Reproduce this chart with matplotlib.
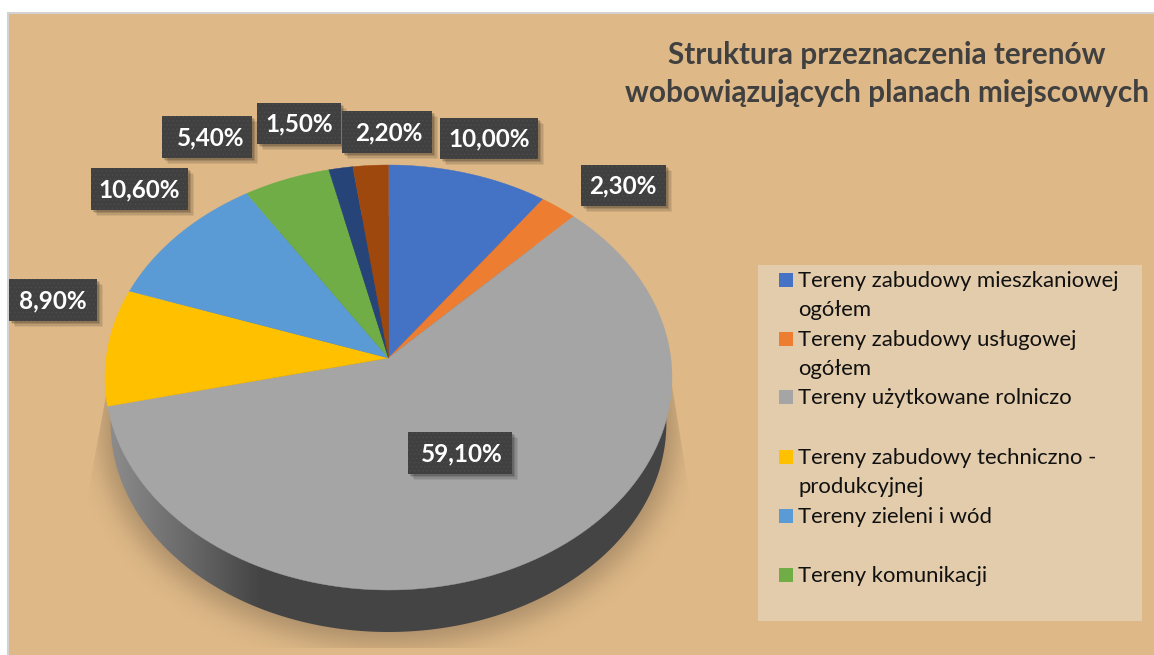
"""Pie chart with a tilted, extruded look, drawn in pixel coordinates."""
import numpy as np
import matplotlib
matplotlib.use("Agg")
import matplotlib.pyplot as plt
from matplotlib.patches import Polygon, Rectangle
from matplotlib.colors import LinearSegmentedColormap

W, H = 1154, 655

TITLE = "Struktura przeznaczenia terenów\nwobowiązujących planach miejscowych"
values = [10.0, 2.3, 59.1, 8.9, 10.6, 5.4, 1.5, 2.2]
value_labels = ["10,00%", "2,30%", "59,10%", "8,90%", "10,60%", "5,40%", "1,50%", "2,20%"]
colors = ["#4472c4", "#ed7d31", "#a5a5a5", "#ffc000", "#5b9bd5", "#70ad47", "#264478", "#9e480e"]
legend_labels = [
    "Tereny zabudowy mieszkaniowej\nogółem",
    "Tereny zabudowy usługowej\nogółem",
    "Tereny użytkowane rolniczo",
    "Tereny zabudowy techniczno -\nprodukcyjnej",
    "Tereny zieleni i wód",
    "Tereny komunikacji",
]

# label boxes in pixels: left, top, right, bottom
label_boxes = [
    (440, 118, 538, 159), (581, 165, 666, 206), (408, 432, 512, 474), (9, 279, 97, 321),
    (91, 168, 188, 210), (162, 116, 252, 158), (257, 103, 341, 144), (342, 111, 432, 153),
]
label_dx = [0, -1, 2, 0, 0, 3.5, 0, 2]
legend_y = [280, 339, 397, 457, 516, 575]

BG = "#deb887"
plt.rcParams["font.family"] = ["Lato", "DejaVu Sans"]
plt.rcParams["hatch.linewidth"] = 0.6


def project(theta, x0, y0, scale=1.0):
    # circle seen in perspective, near edge larger than the far edge
    k = -0.0918
    u, v = np.sin(theta), -np.cos(theta)
    d = 1 + k * v
    return x0 + scale * 282.3 * u / d, y0 + scale * 210.7 * v / d


def gauss_blur(a, sigma):
    fy = np.fft.fftfreq(a.shape[0])[:, None]
    fx = np.fft.rfftfreq(a.shape[1])[None, :]
    g = np.exp(-2 * (np.pi * sigma) ** 2 * (fx ** 2 + fy ** 2))
    return np.fft.irfft2(np.fft.rfft2(a) * g, s=a.shape)


fig = plt.figure(figsize=(W / 100, H / 100), dpi=100, facecolor="white")
ax = fig.add_axes([0, 0, 1, 1])
ax.set_xlim(0, W)
ax.set_ylim(H, 0)
ax.axis("off")

# background runs off the right and bottom edges, frame only shows left and top
ax.add_patch(Rectangle((7.5, 12.5), W, H, fc=BG, ec="#d2d2d2", lw=1.5, zorder=0))

CX, CY = 388.5, 358
SIDE_SCALE = 0.98
BOTTOM_Y = 632 - SIDE_SCALE * 232
t = np.linspace(0, 2 * np.pi, 500)

# soft shadow under the pie
yy, xx = np.mgrid[0:H, 0:W]
sx, sy = project(t, CX, BOTTOM_Y + 4, SIDE_SCALE * 1.03)
mask = ((xx - CX) / (SIDE_SCALE * 1.03 * 283.5)) ** 2 + ((yy - (sy.min() + sy.max()) / 2) / ((sy.max() - sy.min()) / 2)) ** 2 < 1
alpha = np.clip(gauss_blur(mask.astype(float), 14), 0, 1) * 0.25
shadow = np.zeros((H, W, 4))
shadow[..., 3] = alpha
im = ax.imshow(shadow, extent=(0, W, H, 0), zorder=1, aspect="auto")
clip = Polygon([(108, 385), (85, 510), (85, 648), (692, 648), (692, 510), (672, 385)],
               transform=ax.transData, fc="none", ec="none")
ax.add_patch(clip)
im.set_clip_path(clip)

# extruded side with left-to-right gradient
side_cmap = LinearSegmentedColormap.from_list("side", ["#8e8e8e", "#6a6a6a", "#454545", "#444444"])
grad = np.interp(np.linspace(105, 672, 300), [105, 200, 320, 672], [0, 0.4, 0.95, 1])[None, :]
side_im = ax.imshow(grad, extent=(105, 672, H, 0), cmap=side_cmap, vmin=0, vmax=1, zorder=2, aspect="auto")
bx, by = project(t, CX, BOTTOM_Y, SIDE_SCALE)
side = Polygon(np.column_stack([bx, by]), transform=ax.transData, fc="none", ec="none")
ax.add_patch(side)
side_im.set_clip_path(side)
ax.set_xlim(0, W)
ax.set_ylim(H, 0)

# top face
edges = np.cumsum([0] + values) / sum(values) * 2 * np.pi
for i, c in enumerate(colors):
    th = np.linspace(edges[i], edges[i + 1], 120)
    px, py = project(th, CX, CY)
    pts = np.column_stack([np.r_[CX, px], np.r_[CY, py]])
    ax.add_patch(Polygon(pts, closed=True, fc=c, ec=c, lw=0.3, zorder=3))

# value labels
for txt, (l, tp, r, b), dx in zip(value_labels, label_boxes, label_dx):
    for off, a in [(7, 0.07), (5.5, 0.09), (4, 0.12), (2.5, 0.15)]:
        ax.add_patch(Rectangle((l + off - 1, tp + off - 1), r - l, b - tp, fc="black", ec="none", alpha=a, zorder=4))
    ax.add_patch(Rectangle((l, tp), r - l, b - tp, fc="#404040", ec="none", zorder=5))
    ax.add_patch(Rectangle((l, tp), r - l, b - tp, fc="none", ec="#4b4b4b", hatch="....", lw=0, zorder=5))
    ax.text((l + r) / 2 + dx, (tp + b) / 2 + 0.5, txt, color="white", fontsize=17.5, fontweight="bold",
            ha="center", va="center", zorder=6)

# title
ax.text(887, 74, TITLE, color="#404040", fontsize=21.4, fontweight="bold", ha="center", va="center",
        linespacing=1.46, zorder=6)

# legend panel
ax.add_patch(Rectangle((758, 265), 384, 356, fc="#e3ccab", ec="none", zorder=3))
for lab, c, y in zip(legend_labels, colors, legend_y):
    ax.add_patch(Rectangle((779, y - 7), 14, 14, fc=c, ec="none", zorder=4))
    ax.text(798, y - 9, lab, color="#111111", fontsize=15.9, ha="left", va="top", linespacing=1.55, zorder=4)

fig.savefig("out.png", dpi=100)
